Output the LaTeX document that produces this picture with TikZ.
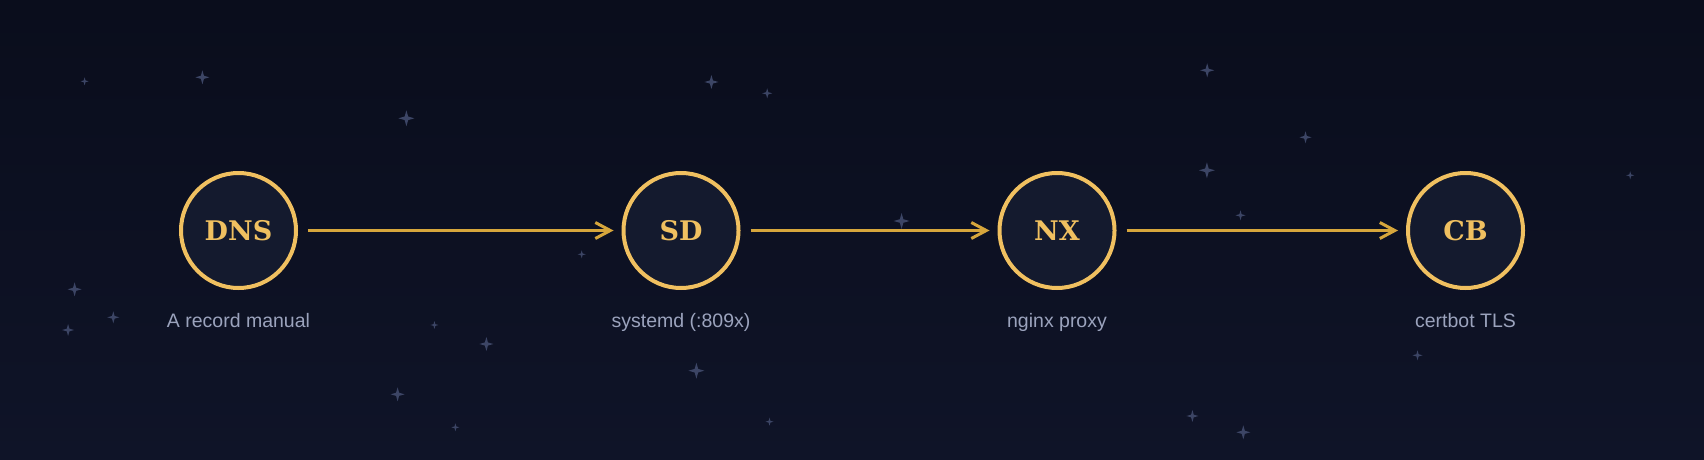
\documentclass[tikz,border=0pt]{standalone}
\usepackage{fontspec}
\setmainfont{Liberation Sans}
\newfontfamily\hubfont{DejaVu Serif}
\usepackage{xcolor}
\usetikzlibrary{positioning, arrows.meta}
\definecolor{bgtop}{HTML}{0A0D1C}
\definecolor{bgbot}{HTML}{0F1428}
\definecolor{hubfill}{HTML}{141A2E}
\definecolor{hubline}{HTML}{F0C060}
\definecolor{flow}{HTML}{D6A63C}
\definecolor{caption}{HTML}{9BA3BD}
\definecolor{starc}{HTML}{3C4565}
\tikzset{
  hub/.style={circle, draw=hubline, fill=hubfill, line width=4pt,
              minimum size=115pt, inner sep=0pt, outer sep=0pt,
              text=hubline, font=\hubfont\bfseries\fontsize{27}{32}\selectfont},
  sublabel/.style={text=caption, inner sep=0pt, text height=14pt, text depth=4pt,
              font=\fontsize{19.5}{23}\selectfont},
  arr/.style={-{Straight Barb[length=15pt, width=16pt, line width=3pt]},
              draw=flow, line width=3pt, shorten <=12pt, shorten >=10pt},
}
\newcommand{\sparkle}[3]{%
  \fill[starc] (#1,#2) ++(0,#3) -- ++(0.22*#3,-0.78*#3) -- ++(0.78*#3,-0.22*#3)
    -- ++(-0.78*#3,-0.22*#3) -- ++(-0.22*#3,-0.78*#3) -- ++(-0.22*#3,0.78*#3)
    -- ++(-0.78*#3,0.22*#3) -- ++(0.78*#3,0.22*#3) -- cycle;}

\begin{document}
\begin{tikzpicture}[x=1pt, y=1pt, node distance=25pt]
  \shade[top color=bgtop, bottom color=bgbot] (0,0) rectangle (1704,-460);
  \useasboundingbox (0,0) rectangle (1704,-460);
  % background stars
  \foreach \sx/\sy/\sr in {84.6/81.3/4, 202.4/77.3/7, 406.4/118.3/8, 581.7/254.3/4,
      74.6/289.3/7, 113.3/317.3/6, 68.1/330/6, 434.4/325/4, 486.4/344/7,
      397.6/394.3/7, 455.4/427.3/4, 711.4/82/7, 767.2/93.3/5, 901.6/221/8,
      696.4/370.7/8, 769.5/421.7/4, 1192.4/416/6, 1207.2/70.3/7, 1305.5/137.3/6,
      1206.9/170.3/8, 1240.5/215.3/5, 1630.2/175.3/4, 1417.5/355.3/5, 1243.3/432.3/7}
    {\sparkle{\sx}{-\sy}{\sr}}

  \node[hub] (dns) at (238.5,-230.5) {DNS};
  \node[hub] (sd)  at (681,-230.5)   {SD};
  \node[hub] (nx)  at (1057,-230.5)  {NX};
  \node[hub] (cb)  at (1465.5,-230.5) {CB};

  \node[sublabel, below=of dns] (dnscap) {A record manual};
  \node[sublabel, below=of sd]  (sdcap)  {systemd (:809x)};
  \node[sublabel, below=of nx]  (nxcap)  {nginx proxy};
  \node[sublabel, below=of cb]  (cbcap)  {certbot TLS};

  \draw[arr] (dns) -- (sd);
  \draw[arr] (sd)  -- (nx);
  \draw[arr] (nx)  -- (cb);
\end{tikzpicture}
\end{document}
